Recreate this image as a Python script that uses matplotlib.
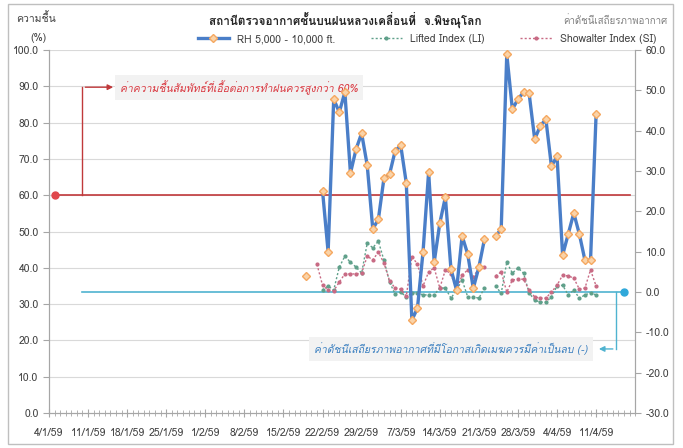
import numpy as np
import pandas as pd
import matplotlib
matplotlib.use("Agg")
import matplotlib.pyplot as plt
import matplotlib.dates as mdates
from matplotlib import font_manager
from matplotlib.ft2font import FT2Font
from matplotlib.patches import Rectangle

# หา font ที่มีอักษรไทย
def thai_font():
    for f in font_manager.fontManager.ttflist:
        try:
            if 0x0E01 in FT2Font(f.fname).get_charmap():
                return f.name
        except Exception:
            pass
    return None

tf = thai_font()
plt.rcParams['font.family'] = [tf, 'DejaVu Sans'] if tf else ['DejaVu Sans']

# ข้อมูล (19/2/2559 - 11/4/2559)
nan = np.nan
start_date = "2016-02-19"
rh = [37.7, nan, nan,
      61.2, 44.4, 86.5, 82.9, 88.4, 66.1, 72.7, 77.1, 68.3, 50.7,
      53.4, 64.7, 65.8, 72.2, 73.8, 63.4, 25.6, 28.9, 44.4, 66.4,
      41.6, 52.3, 59.5, 39.7, 33.9, 48.8, 43.8, 34.4, 40.2, 47.9,
      nan,
      48.8, 50.7, 98.9, 83.7, 86.5, 88.4, 88.1, 75.5, 79.1, 81.0,
      68.0, 70.8, 43.5, 49.3, 55.1, 49.3, 42.1, 42.1, 82.4]
li = [nan, nan, nan,
      0.5, 1.5, 0.5, 6.2, 8.9, 7.4, 6.2, 4.7, 12.1,
      11.0, 12.6, 7.9, 2.5, -0.5, 0.0, -1.2, -0.2, -0.2, -0.7,
      -0.7, -0.7, 1.0, 1.0, -1.5, 0.5, 3.0, -1.2, -1.2, -1.5, 1.0,
      nan,
      1.5, -0.3, 7.4, 4.7, 6.0, 4.7, -0.2, -2.0, -2.5, -2.5,
      -1.2, 1.5, 1.7, -0.7, 0.5, -1.5, -0.7, -0.2, -0.7]
si = [nan, nan,
      6.9, 1.7, 0.5, 0.3, 2.5, 4.5, 4.5, 4.5, 4.7, 8.9,
      8.0, 9.9, 7.2, 2.8, 1.0, 0.7, -1.0, 8.7, 7.0, 1.5,
      5.0, 6.0, 1.0, 5.5, 4.5, 0.5, 4.2, 5.5, 3.7, 6.0, 6.2,
      nan,
      4.0, 5.0, 0.0, 3.0, 3.2, 3.2, 0.5, -1.2, -1.5, -1.5,
      0.0, 1.7, 4.2, 4.0, 3.5, 0.7, 1.0, 5.5, 1.5]
dates = pd.date_range(start_date, periods=len(rh), freq="D")

rh_threshold = 60
index_threshold = 0

title = "สถานีตรวจอากาศชั้นบนฝนหลวงเคลื่อนที่  จ.พิษณุโลก"
left_label = "ความชื้น"
right_label = "ค่าดัชนีเสถียรภาพอากาศ"
note_rh = "ค่าความชื้นสัมพัทธ์ที่เอื้อต่อการทำฝนควรสูงกว่า 60%"
note_idx = "ค่าดัชนีเสถียรภาพอากาศที่มีโอกาสเกิดเมฆควรมีค่าเป็นลบ (-)"

# สี
BLUE = "#4A7EC8"
ORANGE = "#F5A860"
MFC = "#FAD3A8"
GREEN = "#5FA08A"
PINK = "#C86A84"
RED = "#C0393B"
CYAN = "#4FB3D0"
GRID = "#D9D9D9"
AXC = "#A6A6A6"
TXT = "#404040"

fig = plt.figure(figsize=(6.83, 4.48), dpi=100)
ax2 = fig.add_axes([0.0717, 0.078, 0.8583, 0.81])
ax = ax2.twinx()
# ให้แกนซ้ายอยู่ฝั่งซ้าย แกนขวาอยู่ฝั่งขวา
ax.yaxis.tick_left()
ax2.yaxis.tick_right()
ax.patch.set_visible(False)

x0 = pd.Timestamp("2016-01-04")
x1 = pd.Timestamp("2016-04-18")
ax.set_xlim(x0, x1)
ax.set_ylim(0, 100)
ax2.set_ylim(-30, 60)

ax.set_yticks(np.arange(0, 101, 10))
ax2.set_yticks(np.arange(-30, 61, 10))
ax.yaxis.set_major_formatter(plt.FuncFormatter(lambda v, p: f"{v:.1f}"))
ax2.yaxis.set_major_formatter(plt.FuncFormatter(lambda v, p: f"{v:.1f}"))

# เส้นกริดตามแกนซ้าย วาดบน ax2 (ด้านล่าง)
for g in np.arange(10, 101, 10):
    ax2.axhline(-30 + g * 0.9, color=GRID, lw=0.8, zorder=0)

ax2.set_xticks(pd.date_range(x0, "2016-04-11", freq="7D"))
ax2.xaxis.set_minor_locator(mdates.DayLocator())
ax2.xaxis.set_major_formatter(plt.FuncFormatter(
    lambda v, p: (lambda d: f"{d.day}/{d.month}/{(d.year + 543) % 100}")(mdates.num2date(v))))

for a in (ax, ax2):
    a.spines["top"].set_visible(False)
    for s in ("left", "right", "bottom"):
        a.spines[s].set_color(AXC)
    a.tick_params(colors=TXT, labelsize=7.5, length=4, width=0.8, color=AXC)
ax2.tick_params(axis="x", which="major", direction="inout", length=6, pad=8)
ax2.tick_params(axis="x", which="minor", direction="inout", length=4, width=0.6, color=AXC)

# เส้นเกณฑ์
ax.plot([pd.Timestamp("2016-01-05"), pd.Timestamp("2016-04-17")], [rh_threshold] * 2,
        color=RED, lw=1.2, zorder=2)
ax.plot([pd.Timestamp("2016-01-05")], [rh_threshold], "o", color="#E0474C", ms=5,
        clip_on=False, zorder=5)
ax2.plot([pd.Timestamp("2016-01-10"), pd.Timestamp("2016-04-16")], [index_threshold] * 2,
         color=CYAN, lw=1.2, zorder=2)
ax2.plot([pd.Timestamp("2016-04-16")], [index_threshold], "o", color="#2FA8DA", ms=5,
         clip_on=False, zorder=5)

# ข้อมูล
ax2.plot(dates, li, ls=(0, (1.5, 1.5)), color=GREEN, lw=1.0, marker="o", ms=2.0, zorder=3)
ax2.plot(dates, si, ls=(0, (1.5, 1.5)), color=PINK, lw=1.0, marker="o", ms=2.0, zorder=3)
ax.plot(dates, rh, lw=2.4, color=BLUE, marker="D", ms=4, mfc=MFC, mec=ORANGE, mew=1.0, zorder=4)

# หมายเหตุ ความชื้น
ax.annotate("", xy=(pd.Timestamp("2016-01-16"), 89.8), xytext=(pd.Timestamp("2016-01-10"), 89.8),
            arrowprops=dict(arrowstyle="-|>", color=RED, lw=1.0, mutation_scale=8), zorder=3)
ax.plot([pd.Timestamp("2016-01-10")] * 2, [rh_threshold, 89.8], color=RED, lw=1.0, zorder=3)
ax.text(pd.Timestamp("2016-02-07"), 89.8, note_rh, color="#D9363E", style="italic", fontsize=7.5,
        ha="center", va="center", zorder=1,
        bbox=dict(boxstyle="square,pad=0.5", fc="#F2F2F2", ec="none"))

# หมายเหตุ ดัชนี
ax2.plot([pd.Timestamp("2016-04-14 12:00")] * 2, [index_threshold, -14.1], color=CYAN, lw=1.0,
         clip_on=False, zorder=6)
ax2.annotate("", xy=(pd.Timestamp("2016-04-11"), -14.1), xytext=(pd.Timestamp("2016-04-14 12:00"), -14.1),
             arrowprops=dict(arrowstyle="-|>", color=CYAN, lw=1.0, mutation_scale=8), zorder=6)
ax2.text(pd.Timestamp("2016-03-16"), -14.1, note_idx, color="#3A7FC0", style="italic", fontsize=7.5,
         ha="center", va="center", zorder=6,
         bbox=dict(boxstyle="square,pad=0.5", fc="#F2F2F2", ec="none"))

# หัวเรื่อง / ป้าย
fig.text(0.505, 0.955, title, ha="center", va="center", fontsize=8.5, fontweight="bold", color="#262626")
fig.text(0.052, 0.96, left_label, ha="center", va="center", fontsize=7.5, color=TXT)
fig.text(0.056, 0.915, "(%)", ha="center", va="center", fontsize=7.5, color=TXT)
fig.text(0.978, 0.955, right_label, ha="right", va="center", fontsize=7, color="#7F7F7F")

# คำอธิบาย
h1, = ax.plot([], [], lw=2.4, color=BLUE, marker="D", ms=4, mfc=MFC, mec=ORANGE)
h2, = ax.plot([], [], ls=(0, (1.5, 1.5)), color=GREEN, lw=1.0, marker="o", ms=2.0)
h3, = ax.plot([], [], ls=(0, (1.5, 1.5)), color=PINK, lw=1.0, marker="o", ms=2.0)
fig.legend([h1, h2, h3], ["RH 5,000 - 10,000 ft.", "Lifted Index (LI)", "Showalter Index (SI)"],
           loc="center", bbox_to_anchor=(0.625, 0.913), ncol=3, frameon=False, fontsize=7.5,
           handlelength=3.0, columnspacing=3.4, labelcolor=TXT)

fig.patches.append(Rectangle((0.012, 0.008), 0.973, 0.982, transform=fig.transFigure,
                             fill=False, ec="#BFBFBF", lw=1.0))

fig.savefig("out.png", dpi=100)
